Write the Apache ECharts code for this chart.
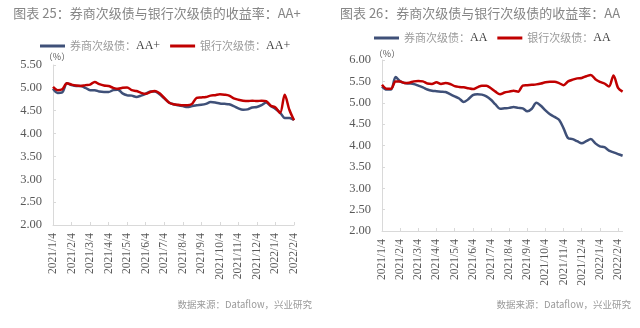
<!DOCTYPE html>
<html>
<head>
<meta charset="utf-8">
<script src="https://cdn.jsdelivr.net/npm/echarts@6/dist/echarts.min.js"></script>
<style>
html,body{margin:0;padding:0;background:#fff;}
#c{width:640px;height:328px;}
</style>
</head>
<body>
<div id="c"></div>
<script>
// Weekly observation dates (labels shown on the 4th of each month)
const datesAAplus = [
  '2021/1/4','2021/1/11','2021/1/18','2021/1/25',
  '2021/2/4','2021/2/11','2021/2/18','2021/2/25',
  '2021/3/4','2021/3/11','2021/3/18','2021/3/25',
  '2021/4/4','2021/4/11','2021/4/18','2021/4/25',
  '2021/5/4','2021/5/11','2021/5/18','2021/5/25',
  '2021/6/4','2021/6/11','2021/6/18','2021/6/25',
  '2021/7/4','2021/7/11','2021/7/18','2021/7/25',
  '2021/8/4','2021/8/11','2021/8/18','2021/8/25',
  '2021/9/4','2021/9/11','2021/9/18','2021/9/25',
  '2021/10/4','2021/10/11','2021/10/18','2021/10/25',
  '2021/11/4','2021/11/11','2021/11/18','2021/11/25',
  '2021/12/4','2021/12/11','2021/12/18','2021/12/25',
  '2022/1/4','2022/1/11','2022/1/18','2022/1/25',
  '2022/2/4'
];
const datesAA = [
  '2021/1/4','2021/1/11','2021/1/18','2021/1/25',
  '2021/2/4','2021/2/11','2021/2/18','2021/2/25',
  '2021/3/4','2021/3/11','2021/3/18','2021/3/25',
  '2021/4/4','2021/4/11','2021/4/18','2021/4/25',
  '2021/5/4','2021/5/11','2021/5/18','2021/5/25',
  '2021/6/4','2021/6/11','2021/6/18','2021/6/25',
  '2021/7/4','2021/7/11','2021/7/18','2021/7/25',
  '2021/8/4','2021/8/11','2021/8/18','2021/8/25',
  '2021/9/4','2021/9/11','2021/9/18','2021/9/25',
  '2021/10/4','2021/10/11','2021/10/18','2021/10/25',
  '2021/11/4','2021/11/11','2021/11/18','2021/11/25',
  '2021/12/4','2021/12/11','2021/12/18','2021/12/25',
  '2022/1/4','2022/1/11','2022/1/18','2022/1/25',
  '2022/2/4','2022/2/11'
];

// Yields (%), AA+
const brokerAAplus = [
  4.98,4.89,4.90,5.10, 5.06,5.04,5.04,5.00, 4.95,4.95,4.92,4.91,
  4.91,4.95,4.96,4.88, 4.84,4.83,4.80,4.83, 4.87,4.92,4.92,4.86,
  4.77,4.68,4.64,4.62, 4.60,4.58,4.60,4.62, 4.63,4.65,4.69,4.68,
  4.66,4.65,4.64,4.60, 4.55,4.52,4.53,4.57, 4.58,4.62,4.68,4.60,
  4.54,4.46,4.34,4.34, 4.30
];
const bankAAplus = [
  5.02,4.95,4.97,5.10, 5.07,5.05,5.04,5.06, 5.07,5.13,5.08,5.05,
  5.04,5.00,4.98,5.00, 5.01,4.95,4.93,4.89, 4.87,4.91,4.93,4.88,
  4.78,4.68,4.64,4.63, 4.62,4.62,4.65,4.78, 4.79,4.80,4.83,4.84,
  4.86,4.85,4.83,4.77, 4.74,4.72,4.71,4.72, 4.71,4.72,4.71,4.61,
  4.57,4.45,4.85,4.52, 4.29
];

// Yields (%), AA
const brokerAA = [
  5.38,5.31,5.31,5.60, 5.50,5.46,5.45,5.44, 5.40,5.36,5.31,5.28,
  5.27,5.26,5.25,5.20, 5.15,5.10,5.02,5.08, 5.18,5.20,5.19,5.15,
  5.07,4.96,4.86,4.87, 4.88,4.90,4.88,4.87, 4.80,4.86,5.00,4.93,
  4.82,4.73,4.67,4.60, 4.40,4.17,4.15,4.10, 4.05,4.10,4.15,4.05,
  3.98,3.96,3.88,3.84, 3.80,3.76
];
const bankAA = [
  5.42,5.33,5.33,5.50, 5.50,5.46,5.47,5.50, 5.51,5.50,5.45,5.44,
  5.48,5.44,5.46,5.44, 5.39,5.37,5.36,5.34, 5.32,5.36,5.40,5.40,
  5.34,5.26,5.20,5.24, 5.26,5.28,5.26,5.40, 5.41,5.42,5.43,5.45,
  5.48,5.49,5.49,5.46, 5.41,5.50,5.54,5.57, 5.58,5.62,5.65,5.55,
  5.49,5.45,5.38,5.64, 5.35,5.26
];

const BLUE = '#3F5078';
const RED = '#C00000';
const AXIS_GREY = '#D9D9D9';
const LABEL_GREY = '#595959';
const SERIF = '"Liberation Serif","Times New Roman",serif';
const CJK = '"Noto Sans CJK SC","Noto Sans",sans-serif';

const monthTick = (i, v) => /\/4$/.test(v);

function xAxisFor(gridIndex, dates) {
  return {
    type: 'category', gridIndex: gridIndex, data: dates, boundaryGap: false,
    axisLine: { lineStyle: { color: AXIS_GREY, width: 1 } },
    axisTick: { inside: true, length: 3, interval: monthTick, lineStyle: { color: AXIS_GREY } },
    axisLabel: {
      interval: monthTick, rotate: 90, margin: 8,
      fontFamily: SERIF, fontSize: 11.5, color: LABEL_GREY
    },
    splitLine: { show: false }
  };
}
function yAxisFor(gridIndex, max) {
  return {
    type: 'value', gridIndex: gridIndex, min: 2, max: max, interval: 0.5,
    axisLine: { show: true, lineStyle: { color: AXIS_GREY, width: 1 } },
    axisTick: { show: true, inside: true, length: 3, lineStyle: { color: AXIS_GREY } },
    axisLabel: {
      margin: 11, fontFamily: SERIF, fontSize: 12.5, color: LABEL_GREY,
      formatter: v => v.toFixed(2)
    },
    splitLine: { show: false }
  };
}
function lineSeries(name, color, xi, data) {
  return {
    name: name, type: 'line', xAxisIndex: xi, yAxisIndex: xi, data: data,
    symbol: 'none', smooth: 0.3,
    lineStyle: { color: color, width: 2.5 }, itemStyle: { color: color }
  };
}
function legendFor(left, top, names) {
  return {
    left: left, top: top, data: names, icon: 'rect', itemWidth: 25, itemHeight: 3, itemGap: 10,
    formatter: n => { const p = n.split('：'); return '{cn|' + p[0] + '：}{en|' + p[1] + '}'; },
    textStyle: {
      rich: {
        cn: { fontFamily: CJK, fontSize: 11, color: '#9A9A9A' },
        en: { fontFamily: SERIF, fontSize: 12, color: '#404040' }
      }
    }
  };
}
function txt(x, y, text, font, fill, align) {
  return {
    type: 'text', x: x, y: y,
    style: { text: text, font: font, fill: fill, align: align, textAlign: align,
             verticalAlign: 'middle', textVerticalAlign: 'middle' }
  };
}

const chart = echarts.init(document.getElementById('c'), null, { renderer: 'canvas' });
chart.setOption({
  backgroundColor: '#fff',
  animation: false,
  grid: [
    { left: 53, top: 65, width: 241, height: 160 },
    { left: 382, top: 60, width: 240.6, height: 171 }
  ],
  xAxis: [xAxisFor(0, datesAAplus), xAxisFor(1, datesAA)],
  yAxis: [yAxisFor(0, 5.5), yAxisFor(1, 6)],
  legend: [
    legendFor(35, 35, ['券商次级债：AA+', '银行次级债：AA+']),
    legendFor(369, 27, ['券商次级债：AA', '银行次级债：AA'])
  ],
  series: [
    lineSeries('券商次级债：AA+', BLUE, 0, brokerAAplus),
    lineSeries('银行次级债：AA+', RED, 0, bankAAplus),
    lineSeries('券商次级债：AA', BLUE, 1, brokerAA),
    lineSeries('银行次级债：AA', RED, 1, bankAA)
  ],
  graphic: [
    txt(157, 13, '图表 25：券商次级债与银行次级债的收益率：AA+', '13px ' + CJK, '#868686', 'center'),
    txt(480, 13, '图表 26：券商次级债与银行次级债的收益率：AA', '13px ' + CJK, '#868686', 'center'),
    txt(57, 57, '（%）', '9px ' + CJK, '#595959', 'center'),
    txt(387, 54, '（%）', '9px ' + CJK, '#595959', 'center'),
    txt(312, 304, '数据来源：Dataflow，兴业研究', '9.5px ' + CJK, '#9A9A9A', 'right'),
    txt(631, 304, '数据来源：Dataflow，兴业研究', '9.5px ' + CJK, '#9A9A9A', 'right')
  ]
});
</script>
</body>
</html>
